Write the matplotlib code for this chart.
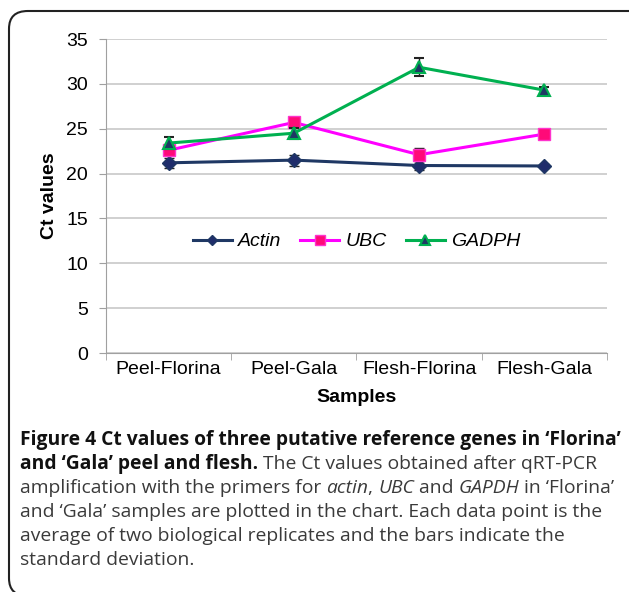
import matplotlib.pyplot as plt
from matplotlib.patches import FancyBboxPatch
from matplotlib.lines import Line2D
import numpy as np

# Dados (valores de Ct)
amostras = ['Peel-Florina', 'Peel-Gala', 'Flesh-Florina', 'Flesh-Gala']
actin = [21.2, 21.5, 20.9, 20.85]
actin_dp = [0.55, 0.6, 0.55, 0.2]
ubc = [22.6, 25.7, 22.1, 24.4]
ubc_dp = [0.3, 0.2, 0.7, 0.6]
gadph = [23.4, 24.5, 31.85, 29.3]
gadph_dp = [0.7, 0.6, 1.0, 0.35]

fonte = 'Liberation Sans'
fonte_legenda = 'Open Sans'

fig = plt.figure(figsize=(6.29, 5.92), dpi=100)
ax = fig.add_axes([0.1685, 0.4037, 0.7965, 0.5304])

x = np.arange(len(amostras))
estilos = [
    ('Actin', actin, actin_dp, dict(color='#1F3864', marker='D', ms=7, mfc='#1F2D6B', mec='#1F3864', mew=1.0)),
    ('UBC', ubc, ubc_dp, dict(color='#FF00FF', marker='s', ms=9, mfc='#FF0A78', mec='#FF33CC', mew=1.0)),
    ('GADPH', gadph, gadph_dp, dict(color='#00B050', marker='^', ms=9, mfc='#1F3864', mec='#00B050', mew=1.5)),
]
handles = []
for i, (nome, vals, dp, st) in enumerate(estilos):
    ax.errorbar(x, vals, yerr=dp, lw=2.2, ecolor='#222222', elinewidth=1, capsize=3.5,
                zorder=3 + i, **st)
    st_leg = dict(st)
    st_leg['ms'] = st['ms'] * 0.8
    handles.append(Line2D([], [], lw=2.2, label=nome, **st_leg))

ax.set_xlim(-0.5, 3.5)
ax.set_ylim(0, 35)
ax.set_yticks(range(0, 36, 5))
ax.set_xticks(x)
ax.set_xticklabels(amostras, fontsize=14, family=fonte)
ax.set_xticks(np.arange(-0.5, 4, 1), minor=True)
ax.tick_params(axis='x', which='major', length=0, pad=6)
ax.tick_params(axis='x', which='minor', length=5, color='#A0A0A0', direction='out')
ax.tick_params(axis='y', length=5, color='#A0A0A0', labelsize=14, pad=8)
for t in ax.get_yticklabels():
    t.set_family(fonte)
ax.grid(axis='y', color='#C8C8C8', lw=1.2)
ax.set_axisbelow(True)
for lado in ['top', 'right']:
    ax.spines[lado].set_visible(False)
ax.spines['left'].set_color('#A0A0A0')
ax.spines['bottom'].set_color('#A0A0A0')

ax.set_ylabel('Ct values', fontsize=14, fontweight='bold', family=fonte, labelpad=6)
ax.set_xlabel('Samples', fontsize=14, fontweight='bold', family=fonte, labelpad=8)

leg = ax.legend(handles=handles, loc='center', bbox_to_anchor=(0.5, 0.355), ncol=3, frameon=False,
                prop={'family': fonte, 'style': 'italic', 'size': 14},
                handlelength=2.0, columnspacing=1.0, handletextpad=0.3)

# Moldura arredondada
caixa = FancyBboxPatch((9 / 629, -4 / 592), 640 / 629, 585 / 592,
                       boxstyle='round,pad=0,rounding_size=0.03',
                       transform=fig.transFigure, fill=False, ec='#222222', lw=1.5,
                       clip_on=False)
fig.add_artist(caixa)

# Legenda da figura com trechos em negrito e itálico
linhas = [
    [("Figure 4 Ct values of three putative reference genes in \u2018Florina\u2019", 'bold', 'normal')],
    [("and \u2018Gala\u2019 peel and flesh.", 'bold', 'normal'),
     (" The Ct values obtained after qRT-PCR", 'normal', 'normal')],
    [("amplification with the primers for ", 'normal', 'normal'), ("actin", 'normal', 'italic'),
     (", ", 'normal', 'normal'), ("UBC", 'normal', 'italic'), (" and ", 'normal', 'normal'),
     ("GAPDH", 'normal', 'italic'), (" in \u2018Florina\u2019", 'normal', 'normal')],
    [("and \u2018Gala\u2019 samples are plotted in the chart. Each data point is the", 'normal', 'normal')],
    [("average of two biological replicates and the bars indicate the", 'normal', 'normal')],
    [("standard deviation.", 'normal', 'normal')],
]
renderer = fig.canvas.get_renderer()
y0 = 1 - 440 / 592
passo = 24 / 592
for i, linha in enumerate(linhas):
    xpos = 20 / 629
    for texto, peso, estilo in linha:
        cor = '#111111' if peso == 'bold' else '#3a3a3a'
        t = fig.text(xpos, y0 - i * passo, texto, fontsize=13.9, fontweight=peso,
                     style=estilo, family=fonte_legenda, color=cor, va='center', ha='left')
        bb = t.get_window_extent(renderer=renderer)
        xpos += bb.width / fig.bbox.width

fig.savefig('out.png', dpi=100)
